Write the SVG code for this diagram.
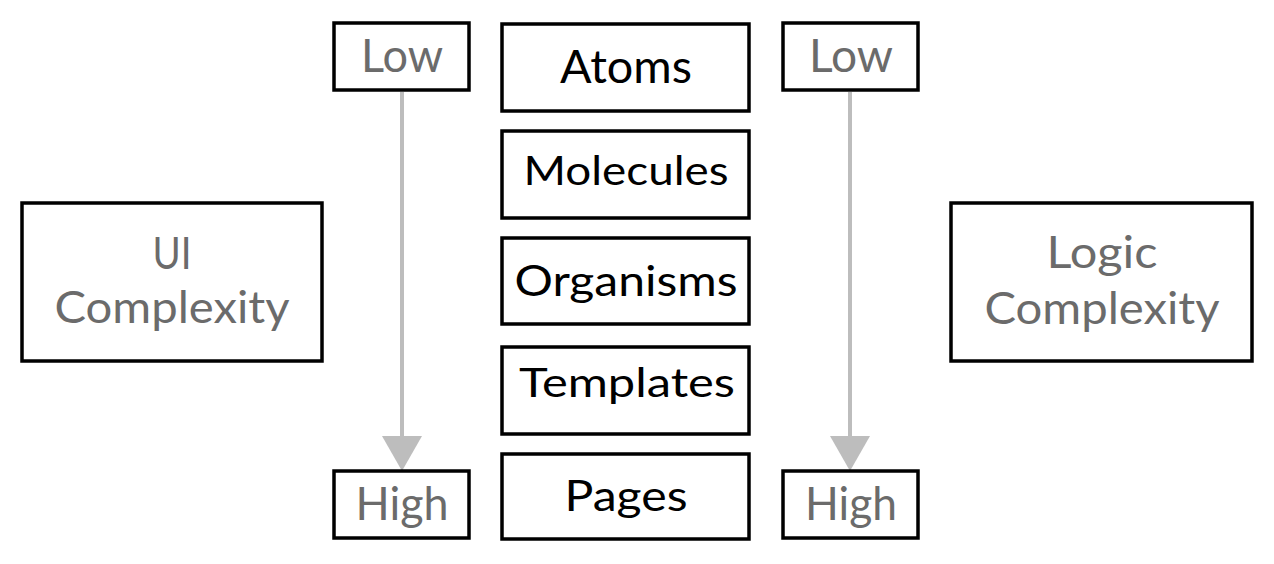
<svg xmlns="http://www.w3.org/2000/svg" width="1274" height="564" viewBox="0 0 1274 564">
<style>
.box{fill:#fff;stroke:#000;stroke-width:3.5}
.t{font-family:Lato,"Noto Sans","Liberation Sans",sans-serif;text-anchor:middle}
.k{fill:#000}
.g{fill:#6b6b6b}
.ln{stroke:#bdbdbd;stroke-width:4;fill:none}
.hd{fill:#bdbdbd}
</style>
<rect width="1274" height="564" fill="#fff"/>
<g id="connectors">
<line class="ln" x1="402" y1="92" x2="402" y2="438"/>
<polygon class="hd" points="382,436 422,436 402,471"/>
<line class="ln" x1="850" y1="92" x2="850" y2="438"/>
<polygon class="hd" points="830,436 870,436 850,471"/>
</g>
<g id="ui-complexity">
<rect class="box" x="22" y="203" width="300" height="158"/>
<text class="t g" x="172" y="269" font-size="44" textLength="39" lengthAdjust="spacingAndGlyphs">UI</text>
<text class="t g" x="172" y="323" font-size="44" textLength="235" lengthAdjust="spacingAndGlyphs">Complexity</text>
</g>
<g id="logic-complexity">
<rect class="box" x="951" y="203" width="301" height="158"/>
<text class="t g" x="1102" y="268" font-size="44" textLength="111" lengthAdjust="spacingAndGlyphs">Logic</text>
<text class="t g" x="1102" y="324" font-size="44" textLength="235" lengthAdjust="spacingAndGlyphs">Complexity</text>
</g>
<g id="low-left">
<rect class="box" x="334" y="23" width="135" height="67"/>
<text class="t g" x="402" y="72" font-size="46" textLength="82" lengthAdjust="spacingAndGlyphs">Low</text>
</g>
<g id="high-left">
<rect class="box" x="334" y="471" width="135" height="67"/>
<text class="t g" x="402" y="520" font-size="46" textLength="93" lengthAdjust="spacingAndGlyphs">High</text>
</g>
<g id="low-right">
<rect class="box" x="783" y="23" width="135" height="67"/>
<text class="t g" x="851" y="72" font-size="46" textLength="84" lengthAdjust="spacingAndGlyphs">Low</text>
</g>
<g id="high-right">
<rect class="box" x="783" y="471" width="135" height="67"/>
<text class="t g" x="851" y="520" font-size="46" textLength="92" lengthAdjust="spacingAndGlyphs">High</text>
</g>
<g id="atoms">
<rect class="box" x="502" y="24" width="247" height="87"/>
<text class="t k" x="626" y="83" font-size="46" textLength="132" lengthAdjust="spacingAndGlyphs">Atoms</text>
</g>
<g id="molecules">
<rect class="box" x="502" y="131" width="247" height="87"/>
<text class="t k" x="626" y="185" font-size="40" textLength="205" lengthAdjust="spacingAndGlyphs">Molecules</text>
</g>
<g id="organisms">
<rect class="box" x="502" y="238" width="247" height="86"/>
<text class="t k" x="626" y="296" font-size="42" textLength="223" lengthAdjust="spacingAndGlyphs">Organisms</text>
</g>
<g id="templates">
<rect class="box" x="502" y="347" width="247" height="87"/>
<text class="t k" x="627" y="397" font-size="40" textLength="216" lengthAdjust="spacingAndGlyphs">Templates</text>
</g>
<g id="pages">
<rect class="box" x="502" y="454" width="247" height="85"/>
<text class="t k" x="626" y="511" font-size="43" textLength="123" lengthAdjust="spacingAndGlyphs">Pages</text>
</g>
</svg>
